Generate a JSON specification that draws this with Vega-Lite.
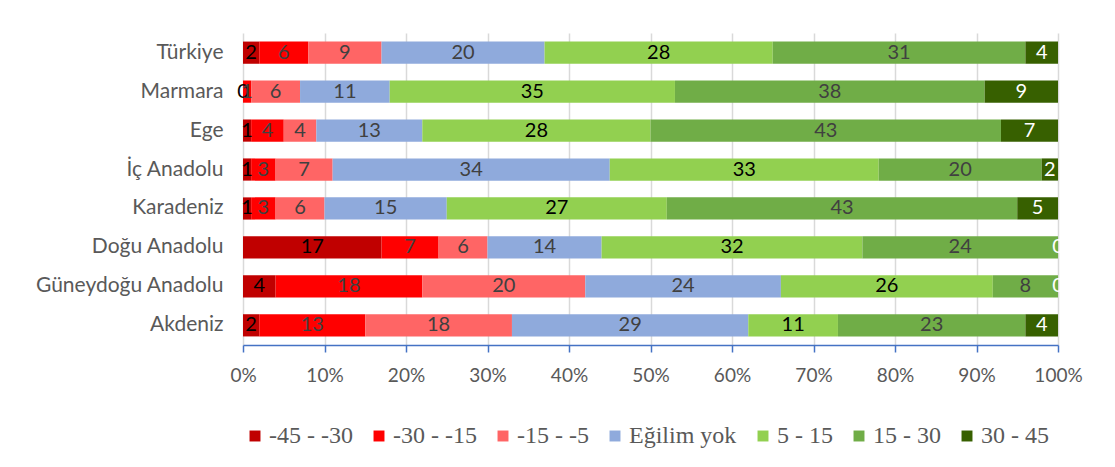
{
  "$schema": "https://vega.github.io/schema/vega-lite/v6.json",
  "width": 815,
  "height": 312,
  "autosize": {"type": "none"},
  "padding": {"left": 243, "top": 33, "right": 57, "bottom": 122},
  "background": "white",
  "config": {
    "view": {"stroke": null},
    "font": "Lato"
  },
  "data": {
    "values": [
      {"region": "Türkiye", "cat": "-45 - -30", "ord": 1, "v": 2},
      {"region": "Türkiye", "cat": "-30 - -15", "ord": 2, "v": 6},
      {"region": "Türkiye", "cat": "-15 - -5", "ord": 3, "v": 9},
      {"region": "Türkiye", "cat": "Eğilim yok", "ord": 4, "v": 20},
      {"region": "Türkiye", "cat": "5 - 15", "ord": 5, "v": 28},
      {"region": "Türkiye", "cat": "15 - 30", "ord": 6, "v": 31},
      {"region": "Türkiye", "cat": "30 - 45", "ord": 7, "v": 4},
      {"region": "Marmara", "cat": "-45 - -30", "ord": 1, "v": 0},
      {"region": "Marmara", "cat": "-30 - -15", "ord": 2, "v": 1},
      {"region": "Marmara", "cat": "-15 - -5", "ord": 3, "v": 6},
      {"region": "Marmara", "cat": "Eğilim yok", "ord": 4, "v": 11},
      {"region": "Marmara", "cat": "5 - 15", "ord": 5, "v": 35},
      {"region": "Marmara", "cat": "15 - 30", "ord": 6, "v": 38},
      {"region": "Marmara", "cat": "30 - 45", "ord": 7, "v": 9},
      {"region": "Ege", "cat": "-45 - -30", "ord": 1, "v": 1},
      {"region": "Ege", "cat": "-30 - -15", "ord": 2, "v": 4},
      {"region": "Ege", "cat": "-15 - -5", "ord": 3, "v": 4},
      {"region": "Ege", "cat": "Eğilim yok", "ord": 4, "v": 13},
      {"region": "Ege", "cat": "5 - 15", "ord": 5, "v": 28},
      {"region": "Ege", "cat": "15 - 30", "ord": 6, "v": 43},
      {"region": "Ege", "cat": "30 - 45", "ord": 7, "v": 7},
      {"region": "İç Anadolu", "cat": "-45 - -30", "ord": 1, "v": 1},
      {"region": "İç Anadolu", "cat": "-30 - -15", "ord": 2, "v": 3},
      {"region": "İç Anadolu", "cat": "-15 - -5", "ord": 3, "v": 7},
      {"region": "İç Anadolu", "cat": "Eğilim yok", "ord": 4, "v": 34},
      {"region": "İç Anadolu", "cat": "5 - 15", "ord": 5, "v": 33},
      {"region": "İç Anadolu", "cat": "15 - 30", "ord": 6, "v": 20},
      {"region": "İç Anadolu", "cat": "30 - 45", "ord": 7, "v": 2},
      {"region": "Karadeniz", "cat": "-45 - -30", "ord": 1, "v": 1},
      {"region": "Karadeniz", "cat": "-30 - -15", "ord": 2, "v": 3},
      {"region": "Karadeniz", "cat": "-15 - -5", "ord": 3, "v": 6},
      {"region": "Karadeniz", "cat": "Eğilim yok", "ord": 4, "v": 15},
      {"region": "Karadeniz", "cat": "5 - 15", "ord": 5, "v": 27},
      {"region": "Karadeniz", "cat": "15 - 30", "ord": 6, "v": 43},
      {"region": "Karadeniz", "cat": "30 - 45", "ord": 7, "v": 5},
      {"region": "Doğu Anadolu", "cat": "-45 - -30", "ord": 1, "v": 17},
      {"region": "Doğu Anadolu", "cat": "-30 - -15", "ord": 2, "v": 7},
      {"region": "Doğu Anadolu", "cat": "-15 - -5", "ord": 3, "v": 6},
      {"region": "Doğu Anadolu", "cat": "Eğilim yok", "ord": 4, "v": 14},
      {"region": "Doğu Anadolu", "cat": "5 - 15", "ord": 5, "v": 32},
      {"region": "Doğu Anadolu", "cat": "15 - 30", "ord": 6, "v": 24},
      {"region": "Doğu Anadolu", "cat": "30 - 45", "ord": 7, "v": 0},
      {"region": "Güneydoğu Anadolu", "cat": "-45 - -30", "ord": 1, "v": 4},
      {"region": "Güneydoğu Anadolu", "cat": "-30 - -15", "ord": 2, "v": 18},
      {"region": "Güneydoğu Anadolu", "cat": "-15 - -5", "ord": 3, "v": 20},
      {"region": "Güneydoğu Anadolu", "cat": "Eğilim yok", "ord": 4, "v": 24},
      {"region": "Güneydoğu Anadolu", "cat": "5 - 15", "ord": 5, "v": 26},
      {"region": "Güneydoğu Anadolu", "cat": "15 - 30", "ord": 6, "v": 8},
      {"region": "Güneydoğu Anadolu", "cat": "30 - 45", "ord": 7, "v": 0},
      {"region": "Akdeniz", "cat": "-45 - -30", "ord": 1, "v": 2},
      {"region": "Akdeniz", "cat": "-30 - -15", "ord": 2, "v": 13},
      {"region": "Akdeniz", "cat": "-15 - -5", "ord": 3, "v": 18},
      {"region": "Akdeniz", "cat": "Eğilim yok", "ord": 4, "v": 29},
      {"region": "Akdeniz", "cat": "5 - 15", "ord": 5, "v": 11},
      {"region": "Akdeniz", "cat": "15 - 30", "ord": 6, "v": 23},
      {"region": "Akdeniz", "cat": "30 - 45", "ord": 7, "v": 4}
    ]
  },
  "transform": [
    {"stack": "v", "groupby": ["region"], "sort": [{"field": "ord", "order": "ascending"}], "offset": "normalize", "as": ["s0", "s1"]},
    {"calculate": "(datum.s0 + datum.s1) / 2", "as": "mid"}
  ],
  "encoding": {
    "y": {
      "field": "region",
      "type": "nominal",
      "sort": ["Türkiye", "Marmara", "Ege", "İç Anadolu", "Karadeniz", "Doğu Anadolu", "Güneydoğu Anadolu", "Akdeniz"],
      "scale": {"paddingInner": 0.43, "paddingOuter": 0.22},
      "axis": {
        "title": null,
        "domain": false,
        "ticks": false,
        "labelFont": "Lato",
        "labelFontSize": 21,
        "labelColor": "#595959",
        "labelPadding": 20,
        "labelLimit": 300
      }
    }
  },
  "layer": [
    {
      "mark": {"type": "bar"},
      "encoding": {
        "x": {
          "field": "s0",
          "type": "quantitative",
          "scale": {"domain": [0, 1], "nice": false},
          "axis": {
            "title": null,
            "format": ".0%",
            "values": [0, 0.1, 0.2, 0.3, 0.4, 0.5, 0.6, 0.7, 0.8, 0.9, 1],
            "labelOverlap": false,
            "labelFlush": false,
            "grid": true,
            "gridColor": "#D9D9D9",
            "gridWidth": 1.5,
            "domainColor": "#4472C4",
            "domainWidth": 1.5,
            "tickColor": "#4472C4",
            "tickWidth": 1.5,
            "tickSize": 7,
            "labelFont": "Lato",
            "labelFontSize": 19,
            "labelColor": "#595959",
            "labelPadding": 14
          }
        },
        "x2": {"field": "s1"},
        "color": {
          "field": "cat",
          "type": "nominal",
          "sort": ["-45 - -30", "-30 - -15", "-15 - -5", "Eğilim yok", "5 - 15", "15 - 30", "30 - 45"],
          "scale": {
            "domain": ["-45 - -30", "-30 - -15", "-15 - -5", "Eğilim yok", "5 - 15", "15 - 30", "30 - 45"],
            "range": ["#C00000", "#FF0000", "#FF6565", "#8FAADC", "#92D050", "#70AD47", "#376000"]
          },
          "legend": {
            "title": null,
            "orient": "bottom",
            "direction": "horizontal",
            "symbolType": "square",
            "symbolSize": 120,
            "symbolStrokeWidth": 0,
            "symbolOpacity": 1,
            "labelFont": "Liberation Serif",
            "labelFontSize": 24,
            "labelColor": "#595959",
            "labelOffset": 2,
            "columnPadding": 14,
            "offset": 39
          }
        }
      }
    },
    {
      "mark": {"type": "text", "font": "Lato", "fontSize": 20},
      "encoding": {
        "x": {"field": "mid", "type": "quantitative"},
        "text": {"field": "v", "type": "quantitative"},
        "color": {
          "field": "cat",
          "type": "nominal",
          "scale": {
            "domain": ["-45 - -30", "-30 - -15", "-15 - -5", "Eğilim yok", "5 - 15", "15 - 30", "30 - 45"],
            "range": ["#000000", "#404040", "#404040", "#404040", "#000000", "#404040", "#FFFFFF"]
          },
          "legend": null
        }
      }
    }
  ],
  "resolve": {"scale": {"color": "independent"}}
}
